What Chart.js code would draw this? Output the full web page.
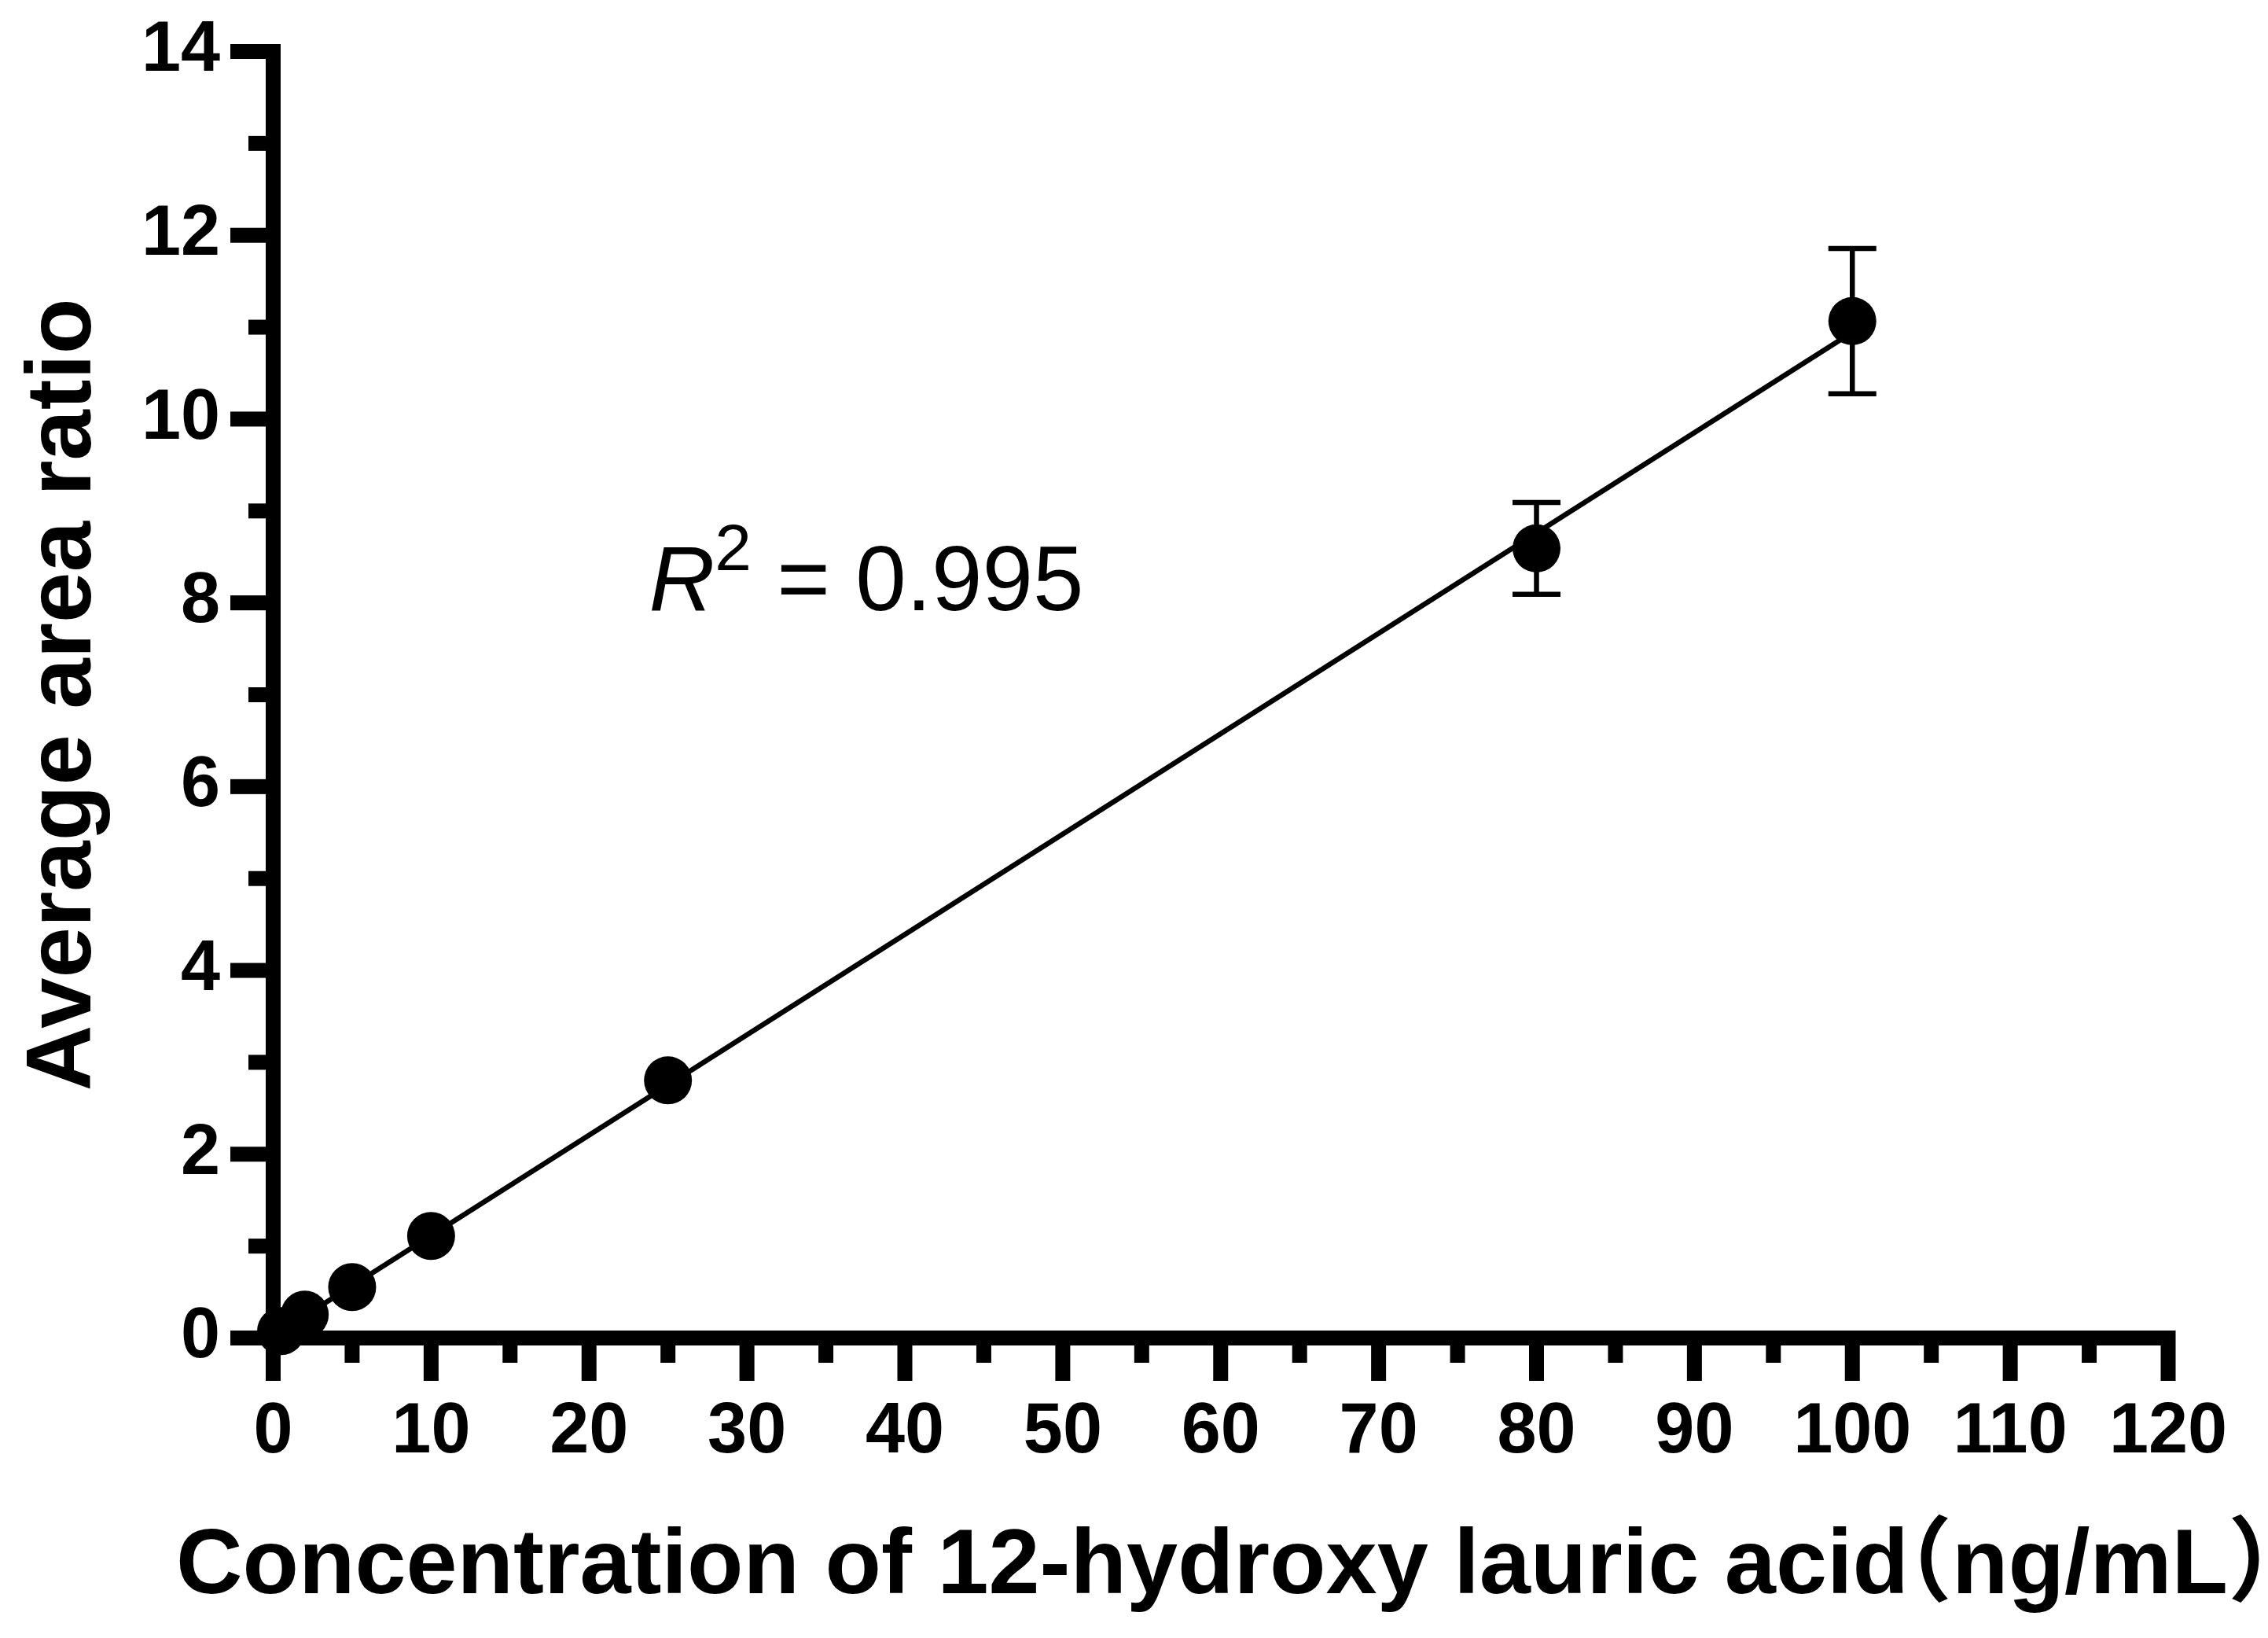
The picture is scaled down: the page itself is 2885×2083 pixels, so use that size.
<!DOCTYPE html>
<html>
<head>
<meta charset="utf-8">
<script src="https://cdn.jsdelivr.net/npm/chart.js@4.4.1/dist/chart.umd.min.js"></script>
<style>
html,body{margin:0;padding:0;background:#fff;}
canvas{display:block;}
</style>
</head>
<body>
<canvas id="c" width="2885" height="2083" style="width:2885px;height:2083px"></canvas>
<script>
// ---- data ----
const concentrations = [0.5, 2, 5, 10, 25, 80, 100];
const areaRatios     = [0.075, 0.255, 0.554, 1.11, 2.804, 8.593, 11.066];
const errorValues    = [0, 0, 0, 0, 0, 0.50, 0.79];
const fitLineX = [0.5, 100];
const fitLineY = [0.077, 10.944];
const xMajorTicks = [0, 10, 20, 30, 40, 50, 60, 70, 80, 90, 100, 110, 120];
const xMinorTicks = [5, 15, 25, 35, 45, 55, 65, 75, 85, 95, 105, 115];
const yMajorTicks = [0, 2, 4, 6, 8, 10, 12, 14];
const yMinorTicks = [1, 3, 5, 7, 9, 11, 13];
const xAxisTitleMain = 'Concentration of 12-hydroxy lauric acid';
const xAxisTitleUnit = '\uFF08ng/mL\uFF09';
const yAxisTitle = 'Average area ratio';
const rSquaredValue = '0.995';
const rSquaredAnchor = [23.8, 7.92];

const FONT = "'Liberation Sans', Arial, 'Noto Sans CJK SC', sans-serif";

const axesPlugin = {
  id: 'prismAxes',
  beforeDatasetsDraw(chart) {
    const ctx = chart.ctx, xs = chart.scales.x, ys = chart.scales.y;
    const W = 19, h = W / 2, major = 45, minor = 22;
    const x0 = xs.getPixelForValue(xMajorTicks[0]);
    const y0 = ys.getPixelForValue(yMajorTicks[0]);
    const yTop = ys.getPixelForValue(yMajorTicks[yMajorTicks.length - 1]) - h;
    const xRight = xs.getPixelForValue(xMajorTicks[xMajorTicks.length - 1]) + h;
    ctx.save();
    ctx.fillStyle = '#000';
    ctx.fillRect(x0 - h, yTop, W, y0 + h - yTop);
    ctx.fillRect(x0 - h, y0 - h, xRight - (x0 - h), W);
    yMajorTicks.forEach(v => { const p = ys.getPixelForValue(v); ctx.fillRect(x0 - h - major, p - h, major, W); });
    yMinorTicks.forEach(v => { const p = ys.getPixelForValue(v); ctx.fillRect(x0 - h - minor, p - h, minor, W); });
    xMajorTicks.forEach(v => { const p = xs.getPixelForValue(v); ctx.fillRect(p - h, y0 + h, W, major); });
    xMinorTicks.forEach(v => { const p = xs.getPixelForValue(v); ctx.fillRect(p - h, y0 + h, W, minor); });
    // error bars
    ctx.strokeStyle = '#000';
    ctx.lineWidth = 6.5;
    ctx.lineCap = 'butt';
    const capHalf = 30.5;
    concentrations.forEach((x, i) => {
      const e = errorValues[i];
      if (!e) return;
      const px = xs.getPixelForValue(x);
      const pt = ys.getPixelForValue(areaRatios[i] + e);
      const pb = ys.getPixelForValue(areaRatios[i] - e);
      ctx.beginPath();
      ctx.moveTo(px, pt); ctx.lineTo(px, pb);
      ctx.moveTo(px - capHalf, pt); ctx.lineTo(px + capHalf, pt);
      ctx.moveTo(px - capHalf, pb); ctx.lineTo(px + capHalf, pb);
      ctx.stroke();
    });
    ctx.restore();
  },
  afterDatasetsDraw(chart) {
    const ctx = chart.ctx, xs = chart.scales.x, ys = chart.scales.y;
    const px = xs.getPixelForValue(rSquaredAnchor[0]);
    const py = ys.getPixelForValue(rSquaredAnchor[1]);
    ctx.save();
    ctx.fillStyle = '#000';
    ctx.textBaseline = 'alphabetic';
    ctx.textAlign = 'left';
    ctx.font = 'italic 116px ' + FONT;
    ctx.fillText('R', px, py);
    let x = px + ctx.measureText('R').width;
    ctx.font = '84px ' + FONT;
    ctx.fillText('2', x, py - 51);
    x += ctx.measureText('2').width;
    ctx.font = '116px ' + FONT;
    ctx.fillText(' = ' + rSquaredValue, x, py);
    // x axis title (drawn here so it is not squeezed to the axis width)
    const ca = chart.chartArea;
    ctx.font = 'bold 117px ' + FONT;
    const tx = ca.left - 123.5, ty = ca.bottom + 324.5;
    ctx.fillText(xAxisTitleMain, tx, ty);
    const w1 = ctx.measureText(xAxisTitleMain).width;
    ctx.fillText(xAxisTitleUnit, tx + w1 - 62, ty);
    ctx.restore();
  }
};

new Chart(document.getElementById('c'), {
  type: 'scatter',
  data: {
    datasets: [
      {
        label: 'points',
        data: concentrations.map((x, i) => ({x: x, y: areaRatios[i]})),
        backgroundColor: '#000',
        borderColor: '#000',
        borderWidth: 0,
        pointRadius: 30.5,
        pointHoverRadius: 30.5,
        clip: false,
        order: 0
      },
      {
        label: 'fit',
        type: 'line',
        data: fitLineX.map((x, i) => ({x: x, y: fitLineY[i]})),
        borderColor: '#000',
        borderWidth: 6.5,
        pointRadius: 0,
        fill: false,
        tension: 0,
        clip: false,
        order: 1
      }
    ]
  },
  options: {
    responsive: false,
    animation: false,
    events: [],
    layout: { padding: { top: 65.5, right: 127, bottom: 0, left: 0 } },
    plugins: { legend: { display: false }, tooltip: { enabled: false } },
    scales: {
      x: {
        type: 'linear',
        min: 0, max: 120,
        grid: { display: false, drawTicks: false },
        border: { display: false },
        ticks: {
          stepSize: 10, autoSkip: false, maxRotation: 0, minRotation: 0,
          color: '#000', padding: 67,
          font: { family: FONT, size: 90, weight: 'bold', lineHeight: 1.2 }
        },
        title: { display: false, text: xAxisTitleMain + xAxisTitleUnit },
        afterFit(s) { s.height = 381.5; s.paddingLeft = 0; s.paddingRight = 0; }
      },
      y: {
        type: 'linear',
        min: 0, max: 14,
        grid: { display: false, drawTicks: false },
        border: { display: false },
        ticks: {
          stepSize: 2, autoSkip: false, color: '#000', padding: 67.5,
          font: { family: FONT, size: 90, weight: 'bold', lineHeight: 1.2 }
        },
        title: {
          display: true, text: yAxisTitle, color: '#000',
          font: { family: FONT, size: 116, weight: 'bold', lineHeight: 1 },
          padding: { top: 25, bottom: 0 }
        },
        afterFit(s) { s.width = 347.5; s.paddingTop = 0; s.paddingBottom = 0; }
      }
    }
  },
  plugins: [axesPlugin]
});
</script>
</body>
</html>
